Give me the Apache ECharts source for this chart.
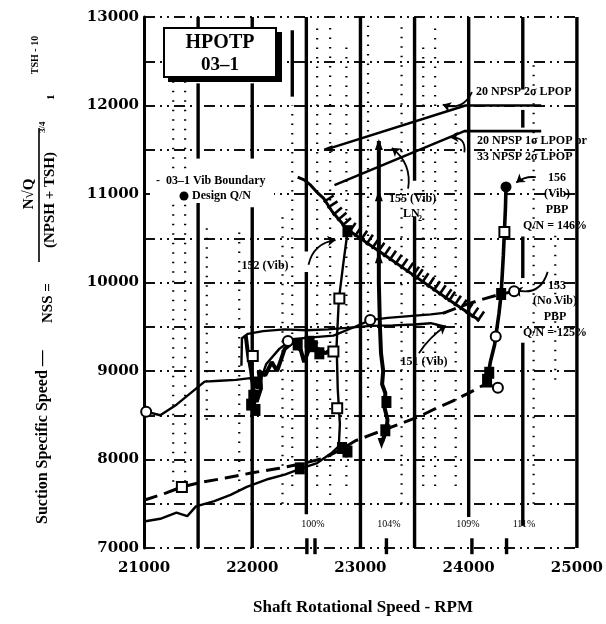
<!DOCTYPE html>
<html>
<head>
<meta charset="utf-8">
<script src="https://cdn.jsdelivr.net/npm/echarts@6/dist/echarts.min.js"></script>
<style>html,body{margin:0;padding:0;background:#fff}#chart{width:606px;height:624px}</style>
</head>
<body>
<div id="chart"></div>
<script>
// axes
const xTickLabels = [21000, 22000, 23000, 24000, 25000];
const yTickLabels = [7000, 8000, 9000, 10000, 11000, 12000, 13000];

// heavy vertical rules [rpm, nssFrom, nssTo]
const heavyRules = [
  [21500, 7000, 10900], [21500, 11400, 12250], [21500, 12850, 13000],
  [22000, 7000, 10850], [22000, 11400, 12250], [22000, 12850, 13000],
  [22370, 12100, 12850],
  [22500, 7380, 10120], [22500, 10350, 13000],
  [23000, 7000, 13000],
  [23500, 7000, 10750], [23500, 11150, 13000],
  [24000, 7350, 13000],
  [24500, 7250, 9320], [24500, 10050, 10520], [24500, 11750, 11950], [24500, 12180, 13000],
  [25000, 7000, 13000]
];
// dotted vertical rules
const dottedRules = [
  [21270, 7750, 12600], [21380, 7750, 12600], [21580, 8450, 10700], [21880, 7650, 10600],
  [22280, 7500, 10800], [22370, 7700, 12000], [22600, 7700, 12900], [22720, 7600, 12900],
  [22870, 7700, 12700], [23070, 8700, 12900], [23380, 7500, 12900], [23580, 7700, 12700],
  [23690, 7700, 12900], [23880, 7700, 11900], [24600, 7500, 12500], [24800, 8900, 10600]
];
// speed marks on the bottom axis
const pctTicks = [22505, 22580, 23240, 24030, 24350];

// test runs
const lowerRun = [[21000,7300],[21150,7330],[21300,7400],[21400,7360],[21480,7470],[21650,7530],[21800,7600],[21950,7690],[22150,7780],[22300,7830],[22480,7910],[22600,7960],[22730,8070],[22800,8150],[22810,8400],[22790,8800],[22780,9300],[22800,9800],[22840,10200],[22880,10570]];
const dashedRun = [[21000,7540],[21200,7620],[21350,7690],[21520,7740],[21750,7790],[22000,7850],[22250,7900],[22450,7950],[22650,8010],[22800,8100],[22950,8210],[23100,8280],[23250,8350],[23400,8420],[23550,8490],[23700,8580],[23850,8660],[24000,8750],[24120,8830],[24250,8830]];
const dashed153 = [[23760,9650],[23950,9740],[24100,9800],[24300,9870],[24420,9900]];
const middleRun = [[21020,8540],[21150,8500],[21300,8620],[21450,8770],[21560,8880],[21700,8890],[21850,8900],[21980,8920],[22050,8800],[22130,9080],[22250,9250],[22370,9360],[22550,9380],[22750,9400],[22950,9500],[23090,9575],[23250,9600],[23450,9620],[23650,9640],[23790,9660]];
const upperRun = [[21900,9060],[21905,9370],[21960,9420],[22100,9450],[22300,9470],[22500,9460],[22700,9470],[22900,9490],[23100,9510],[23300,9515],[23500,9525],[23650,9540],[23780,9500]];
const tangle = [[21940,9400],[21960,9200],[21990,9000],[22010,8800],[22040,8650],[22080,8800],[22060,9000],[22120,8950],[22180,9100],[22230,9000],[22300,9250],[22380,9330],[22450,9230],[22480,9100],[22540,9300],[22600,9250],[22680,9200],[22740,9260]];
const run155 = [[23200,8200],[23240,8330],[23250,8450],[23220,8600],[23230,8750],[23200,8850],[23210,9000],[23190,9200],[23180,9500],[23170,10000],[23170,10500],[23170,11000],[23170,11600]];
const run156 = [[24200,8830],[24180,8950],[24200,9100],[24240,9300],[24250,9390],[24280,9650],[24300,9870],[24320,10300],[24330,10570],[24340,10850],[24345,11080]];
const npsp2Sigma = [[22700,11510],[23970,12000],[24670,12000]];
const npsp1Sigma = [[22760,11100],[23960,11710],[24670,11710]];
const vibBoundary = [[22420,11190],[22480,11160],[22540,11100],[22590,11030],[22660,10950],[22740,10800],[22880,10600],[23200,10330],[23500,10075],[23800,9820],[24100,9570]];

// markers
const openCircles = [[21020,8540],[23090,9575],[24250,9390],[24270,8810],[24420,9900],[22330,9340]];
const openSquares = [[21350,7690],[22005,9170],[22750,9220],[22785,8580],[22805,9820],[24330,10570]];
const blobs = [[22010,8720],[21990,8620],[22030,8560],[22050,8870],[22420,9300],[22530,9330],[22560,9280],[22620,9200],[22440,7900],[22830,8130],[22880,8090],[24300,9870],[24170,8900],[24190,8980],[23240,8650],[23230,8330],[22880,10580]];
const designQN = [[24345,11080]];
const arrowsUp155 = [[23170,11560],[23170,10980],[23170,10280]];
const arrowsDown155 = [[23195,8180]];

// callout leaders [from, to]
const leaders = [
  [[22520,10200],[22770,10480]],
  [[23440,11060],[23290,11520]],
  [[23540,9200],[23790,9510]],
  [[24030,12150],[23760,12010]],
  [[23960,11470],[23830,11640]],
  [[24620,11190],[24440,11130]],
  [[24730,10120],[24420,9920]]
];

const SERIF = '"Liberation Serif", "Times New Roman", serif';
const WIDE = '"DejaVu Serif", serif';

const chart = echarts.init(document.getElementById('chart'));

function ruleRenderer(width, dash) {
  return function (params, api) {
    const a = api.coord([api.value(0), api.value(1)]);
    const b = api.coord([api.value(0), api.value(2)]);
    return {
      type: 'line',
      shape: {x1: a[0], y1: a[1], x2: b[0], y2: b[1]},
      style: {stroke: '#000', lineWidth: width, lineDash: dash || null, lineCap: 'butt'}
    };
  };
}

const hatchSegments = [];
for (let i = 4; i < vibBoundary.length - 1; i++) {
  hatchSegments.push([vibBoundary[i][0], vibBoundary[i][1], vibBoundary[i + 1][0], vibBoundary[i + 1][1]]);
}

function hatchRenderer(params, api) {
  const a = api.coord([api.value(0), api.value(1)]);
  const b = api.coord([api.value(2), api.value(3)]);
  const dx = b[0] - a[0], dy = b[1] - a[1];
  const len = Math.hypot(dx, dy);
  const ux = dx / len, uy = dy / len;
  const nx = uy, ny = -ux; // upper-right side
  const kids = [];
  for (let s = 3; s < len; s += 7) {
    const px = a[0] + ux * s, py = a[1] + uy * s;
    kids.push({
      type: 'line',
      shape: {x1: px - nx * 2, y1: py - ny * 2, x2: px + nx * 10, y2: py + ny * 10},
      style: {stroke: '#000', lineWidth: 2.6}
    });
  }
  return {type: 'group', children: kids};
}

function curve(data, width, dash) {
  return {
    type: 'line', data: data, symbol: 'none', silent: true, z: 3,
    lineStyle: {color: '#000', width: width, type: dash || 'solid'}
  };
}

function marks(data, symbol, size, fill, rotate) {
  return {
    type: 'scatter', data: data, symbol: symbol, symbolSize: size, symbolRotate: rotate || 0, z: 5, silent: true,
    itemStyle: {color: fill, borderColor: '#000', borderWidth: fill === '#fff' ? 2 : 0, opacity: 1}
  };
}

function txt(x, y, text, size, align, weight) {
  return {
    type: 'text', x: x, y: y, z: 100,
    style: {text: text, font: (weight || 'bold') + ' ' + size + 'px ' + SERIF, fill: '#000', align: align || 'left', verticalAlign: 'middle'}
  };
}

const leaderBends = [0.35, -0.3, 0.1, 0.45, -0.6, -0.2, 0.5];

const option = {
  animation: false,
  backgroundColor: '#fff',
  grid: {left: 144, right: 26, top: 17, bottom: 76},
  xAxis: {
    type: 'value', min: 21000, max: 25000, interval: 1000,
    axisLine: {show: false}, axisTick: {show: false}, splitLine: {show: false},
    axisLabel: {margin: 13, color: '#000', fontFamily: WIDE, fontWeight: 'bold', fontSize: 15,
      formatter: v => xTickLabels.includes(v) ? String(v) : ''}
  },
  yAxis: {
    type: 'value', min: 7000, max: 13000, interval: 500,
    axisLine: {show: true, lineStyle: {color: '#000', width: 3}},
    axisTick: {show: false},
    axisLabel: {margin: 5, color: '#000', fontFamily: WIDE, fontWeight: 'bold', fontSize: 15,
      formatter: v => yTickLabels.includes(v) ? String(v) : ''},
    splitLine: {show: true, lineStyle: {color: '#111', width: 2, type: [11, 5, 2, 5, 2, 5]}}
  },
  series: [
    {type: 'custom', data: dottedRules, encode: {x: 0, y: [1, 2]}, renderItem: ruleRenderer(2.2, [1.5, 8]), z: 1, silent: true},
    {type: 'custom', data: heavyRules, encode: {x: 0, y: [1, 2]}, renderItem: ruleRenderer(3.4), z: 2, silent: true},
    {type: 'custom', data: pctTicks.map(x => [x, 6930, 7110]), encode: {x: 0, y: [1, 2]}, renderItem: ruleRenderer(3.4), z: 2, silent: true},
    curve(lowerRun, 2.4),
    curve(dashedRun, 3, [14, 7]),
    curve(dashed153, 3, [14, 7]),
    curve(middleRun, 2.4),
    curve(upperRun, 2.4),
    curve(tangle, 4),
    curve(run155, 4),
    curve(run156, 3.6),
    curve(npsp2Sigma, 2.6),
    curve(npsp1Sigma, 2.6),
    curve(vibBoundary, 3),
    {type: 'custom', data: hatchSegments, encode: {x: [0, 2], y: [1, 3]}, renderItem: hatchRenderer, z: 3, silent: true},
    {
      type: 'lines', coordinateSystem: 'cartesian2d', z: 4, silent: true,
      symbol: ['none', 'arrow'], symbolSize: 8,
      lineStyle: {color: '#000', width: 1.8, opacity: 1},
      data: leaders.map((c, i) => ({coords: c, lineStyle: {curveness: leaderBends[i]}}))
    },
    marks(openCircles, 'circle', 10, '#fff'),
    marks(openSquares, 'rect', 10, '#fff'),
    marks(blobs, 'rect', [10, 12], '#000'),
    marks(designQN, 'circle', 11, '#000'),
    marks(arrowsUp155, 'triangle', [8, 11], '#000'),
    marks(arrowsDown155, 'triangle', [8, 11], '#000', 180),
    marks([npsp2Sigma[0]], 'triangle', [7, 9], '#000', 90)
  ],
  graphic: [
    {type: 'rect', z: 90, shape: {x: 168, y: 32, width: 114, height: 50}, style: {fill: '#000'}},
    {type: 'rect', z: 91, shape: {x: 164, y: 28, width: 112, height: 49}, style: {fill: '#fff', stroke: '#000', lineWidth: 2}},
    txt(220, 43, 'HPOTP', 20, 'center'),
    txt(220, 65, '03–1', 19, 'center'),
    {type: 'rect', z: 95, shape: {x: 150, y: 173, width: 124, height: 30}, style: {fill: '#fff'}},
    txt(156, 181, '-  03–1 Vib Boundary', 12),
    {type: 'circle', z: 100, shape: {cx: 184, cy: 196, r: 4.5}, style: {fill: '#000'}},
    txt(192, 196, 'Design Q/N', 12),
    txt(476, 92, '20 NPSP 2σ LPOP', 12),
    txt(477, 141, '20 NPSP 1σ LPOP or', 12),
    txt(477, 157, '33 NPSP 2σ LPOP', 12),
    txt(389, 199, '155 (Vib)', 12),
    txt(403, 214, 'LN', 12),
    txt(418, 219, '2', 8),
    txt(557, 178, '156', 12, 'center'),
    txt(557, 194, '(Vib)', 12, 'center'),
    txt(557, 210, 'PBP', 12, 'center'),
    txt(555, 226, 'Q/N = 146%', 12, 'center'),
    txt(265, 266, '152 (Vib)', 12, 'center'),
    txt(557, 286, '153', 12, 'center'),
    txt(555, 301, '(No Vib)', 12, 'center'),
    txt(555, 317, 'PBP', 12, 'center'),
    txt(555, 333, 'Q/N = 125%', 12, 'center'),
    txt(424, 362, '151 (Vib)', 12, 'center'),
    txt(313, 524, '100%', 10, 'center', 'normal'),
    txt(389, 524, '104%', 10, 'center', 'normal'),
    txt(468, 524, '109%', 10, 'center', 'normal'),
    txt(524, 524, '111%', 10, 'center', 'normal'),
    txt(363, 608, 'Shaft Rotational Speed - RPM', 17, 'center'),
    {
      type: 'group', x: 0, y: 530, rotation: Math.PI / 2, z: 100,
      children: [
        txt(6, 43, 'Suction Specific Speed —', 16),
        txt(207, 48, 'NSS =', 15),
        {type: 'line', shape: {x1: 268, y1: 39, x2: 402, y2: 39}, style: {stroke: '#000', lineWidth: 1.6}},
        txt(336, 29, 'N√Q', 15, 'center'),
        txt(330, 50, '(NPSH + TSH)', 15, 'center'),
        txt(397, 43, '3/4', 9),
        txt(430, 51, '1', 11),
        txt(475, 35, 'TSH - 10', 10, 'center')
      ]
    }
  ]
};

chart.setOption(option);
</script>
</body>
</html>
